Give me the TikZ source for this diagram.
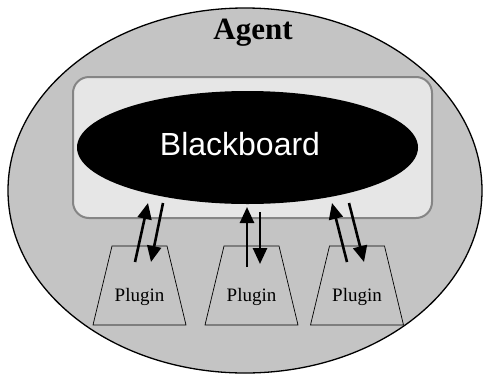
\documentclass[tikz,border=0pt]{standalone}
\usepackage{fontspec}
\setmainfont{Liberation Serif}
\setsansfont{Liberation Sans}
\usetikzlibrary{shapes.geometric,arrows.meta,calc}
\definecolor{agentgray}{HTML}{C4C4C4}
\definecolor{boardgray}{HTML}{E6E6E6}
\definecolor{rimgray}{HTML}{858585}
\tikzset{
  agentshape/.style={ellipse,draw=black,line width=1.3pt,fill=agentgray,
    minimum width=474pt,minimum height=365pt,inner sep=0pt},
  panel/.style={rounded corners=16pt,draw=rimgray,line width=2pt,fill=boardgray,
    minimum width=359pt,minimum height=141pt,inner sep=0pt},
  board/.style={ellipse,fill=black,minimum width=341pt,minimum height=113pt,inner sep=0pt},
  pluginbox/.style={draw=black,line width=0.7pt,fill=agentgray},
  plugtext/.style={font=\fontsize{19}{19}\selectfont},
  flow/.style={line width=2.6pt,-{Triangle[length=16pt,width=14pt]}}
}
% a plugin drawn as a trapezium centred at x, top at y=246, bottom at y=325
\newcommand{\pluginat}[2]{%
  \draw[pluginbox] (#1-46.5,325) -- (#1+46.5,325) -- (#1+27.5,246) -- (#1-27.5,246) -- cycle;
  \node[plugtext] (#2) at (#1,297) {Plugin};
}
\begin{document}
\begin{tikzpicture}[x=1pt,y=-1pt]
\useasboundingbox (0,0) rectangle (484,378);
\fill[white] (0,0) rectangle (484,378);
% outer agent boundary
\node[agentshape] (agent) at (245,190.5) {};
\node[font=\bfseries\fontsize{31}{31}\selectfont] (title) at (253,33) {Agent};
% blackboard area
\node[panel] (panel) at (252.5,147.5) {};
\node[board] (board) at (247.5,147.5) {};
\node[font=\sffamily\fontsize{32}{32}\selectfont,text=white] (bbtext) at (240,144) {Blackboard};
% plugins
\pluginat{139.5}{t1}
\pluginat{251.5}{t2}
\pluginat{357}{t3}
% arrow end points
\coordinate (u1a) at (135,262);  \coordinate (u1b) at (148,203);
\coordinate (d1a) at (163,203);  \coordinate (d1b) at (151,262);
\coordinate (u2a) at (247,267);  \coordinate (u2b) at (247,207);
\coordinate (d2a) at (260,212);  \coordinate (d2b) at (260,264);
\coordinate (u3a) at (347,262);  \coordinate (u3b) at (332,203);
\coordinate (d3a) at (349,203);  \coordinate (d3b) at (364,262);
% data flow between plugins and blackboard
\draw[flow] (u1a) -- (u1b);
\draw[flow] (d1a) -- (d1b);
\draw[flow] (u2a) -- (u2b);
\draw[flow] (d2a) -- (d2b);
\draw[flow] (u3a) -- (u3b);
\draw[flow] (d3a) -- (d3b);
\end{tikzpicture}
\end{document}
